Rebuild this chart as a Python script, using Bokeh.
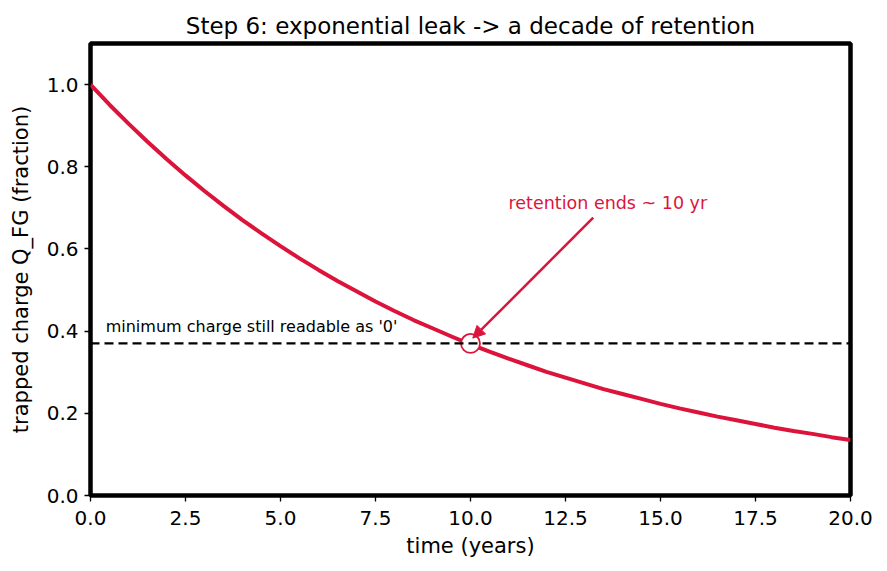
from bokeh.plotting import figure
from bokeh.models import (ColumnDataSource, Span, Arrow, NormalHead, FixedTicker,
                          NumeralTickFormatter, Range1d, Label)
from bokeh.embed import file_html
from bokeh.resources import INLINE

# Fraction of floating-gate charge left after t years
years = [0.0, 0.5, 1.0, 1.5, 2.0, 2.5, 3.0, 3.5, 4.0, 4.5, 5.0, 5.5, 6.0, 6.5, 7.0,
         7.5, 8.0, 8.5, 9.0, 9.5, 10.0, 10.5, 11.0, 11.5, 12.0, 12.5, 13.0, 13.5,
         14.0, 14.5, 15.0, 15.5, 16.0, 16.5, 17.0, 17.5, 18.0, 18.5, 19.0, 19.5, 20.0]
charge = [1.000, 0.951, 0.905, 0.861, 0.819, 0.779, 0.741, 0.705, 0.670, 0.638,
          0.607, 0.577, 0.549, 0.522, 0.497, 0.472, 0.449, 0.427, 0.407, 0.387,
          0.368, 0.350, 0.333, 0.317, 0.301, 0.287, 0.273, 0.259, 0.247, 0.235,
          0.223, 0.212, 0.202, 0.192, 0.183, 0.174, 0.165, 0.157, 0.150, 0.142,
          0.135]

threshold = 0.37          # minimum readable charge
retention_year = 10.0     # where the curve crosses the threshold
x_ticks = [0.0, 2.5, 5.0, 7.5, 10.0, 12.5, 15.0, 17.5, 20.0]
y_ticks = [0.0, 0.2, 0.4, 0.6, 0.8, 1.0]

CRIMSON = "#DC143C"
FONT = "DejaVu Sans"

p = figure(width=887, height=571, output_backend="svg", toolbar_location=None,
           x_range=Range1d(0, 20), y_range=Range1d(0, 1.1),
           title="Step 6: exponential leak -> a decade of retention",
           min_border_left=90, min_border_right=37, min_border_top=43,
           min_border_bottom=76)

p.title.text_font = FONT
p.title.text_font_size = "23px"
p.title.text_font_style = "normal"
p.title.text_color = "black"
p.title.align = "center"
p.title.standoff = 10

p.outline_line_color = "black"
p.outline_line_width = 4.5
p.outline_line_alpha = 1.0
p.grid.visible = False

for ax in (p.xaxis[0], p.yaxis[0]):
    ax.axis_line_color = None
    ax.major_tick_in = 0
    ax.major_tick_out = 6
    ax.major_tick_line_width = 1.3
    ax.minor_tick_line_color = None
    ax.major_label_text_font = FONT
    ax.major_label_text_font_size = "20px"
    ax.major_label_text_color = "black"
    ax.axis_label_text_font = FONT
    ax.axis_label_text_font_size = "21px"
    ax.axis_label_text_font_style = "normal"
    ax.axis_label_text_color = "black"
    ax.formatter = NumeralTickFormatter(format="0.0")

p.xaxis.ticker = FixedTicker(ticks=x_ticks)
p.yaxis.ticker = FixedTicker(ticks=y_ticks)
p.xaxis.axis_label = "time (years)"
p.yaxis.axis_label = "trapped charge Q_FG (fraction)"
p.xaxis.major_label_standoff = 9
p.yaxis.major_label_standoff = 6
p.xaxis.axis_label_standoff = 6
p.yaxis.axis_label_standoff = 11

# threshold line
p.add_layout(Span(location=threshold, dimension="width", line_color="black",
                  line_width=2.2, line_dash="9 5"))
p.add_layout(Label(x=0.4, y=threshold + 0.03, y_offset=5,
                   text="minimum charge still readable as '0'",
                   text_font=FONT, text_font_size="16px", text_color="black",
                   text_baseline="alphabetic"))

# decay curve
src = ColumnDataSource(data=dict(t=years, q=charge))
p.line("t", "q", source=src, line_color=CRIMSON, line_width=4)

# crossing point
p.scatter([retention_year], [threshold], size=19, marker="circle",
          fill_color="white", line_color=CRIMSON, line_width=1.8)

# annotation
text_x, text_y = 11.0, 0.70
p.add_layout(Label(x=text_x, y=text_y, y_offset=5, text="retention ends ~ 10 yr",
                   text_font=FONT, text_font_size="17.5px", text_color=CRIMSON,
                   text_baseline="alphabetic"))
p.add_layout(Arrow(x_start=13.23, y_start=0.676, x_end=10.06, y_end=0.383,
                   line_color=CRIMSON, line_width=2.5,
                   end=NormalHead(size=12, fill_color=CRIMSON, line_color=CRIMSON,
                                  line_width=1)))

open("out.html", "w").write(file_html(p, INLINE))
